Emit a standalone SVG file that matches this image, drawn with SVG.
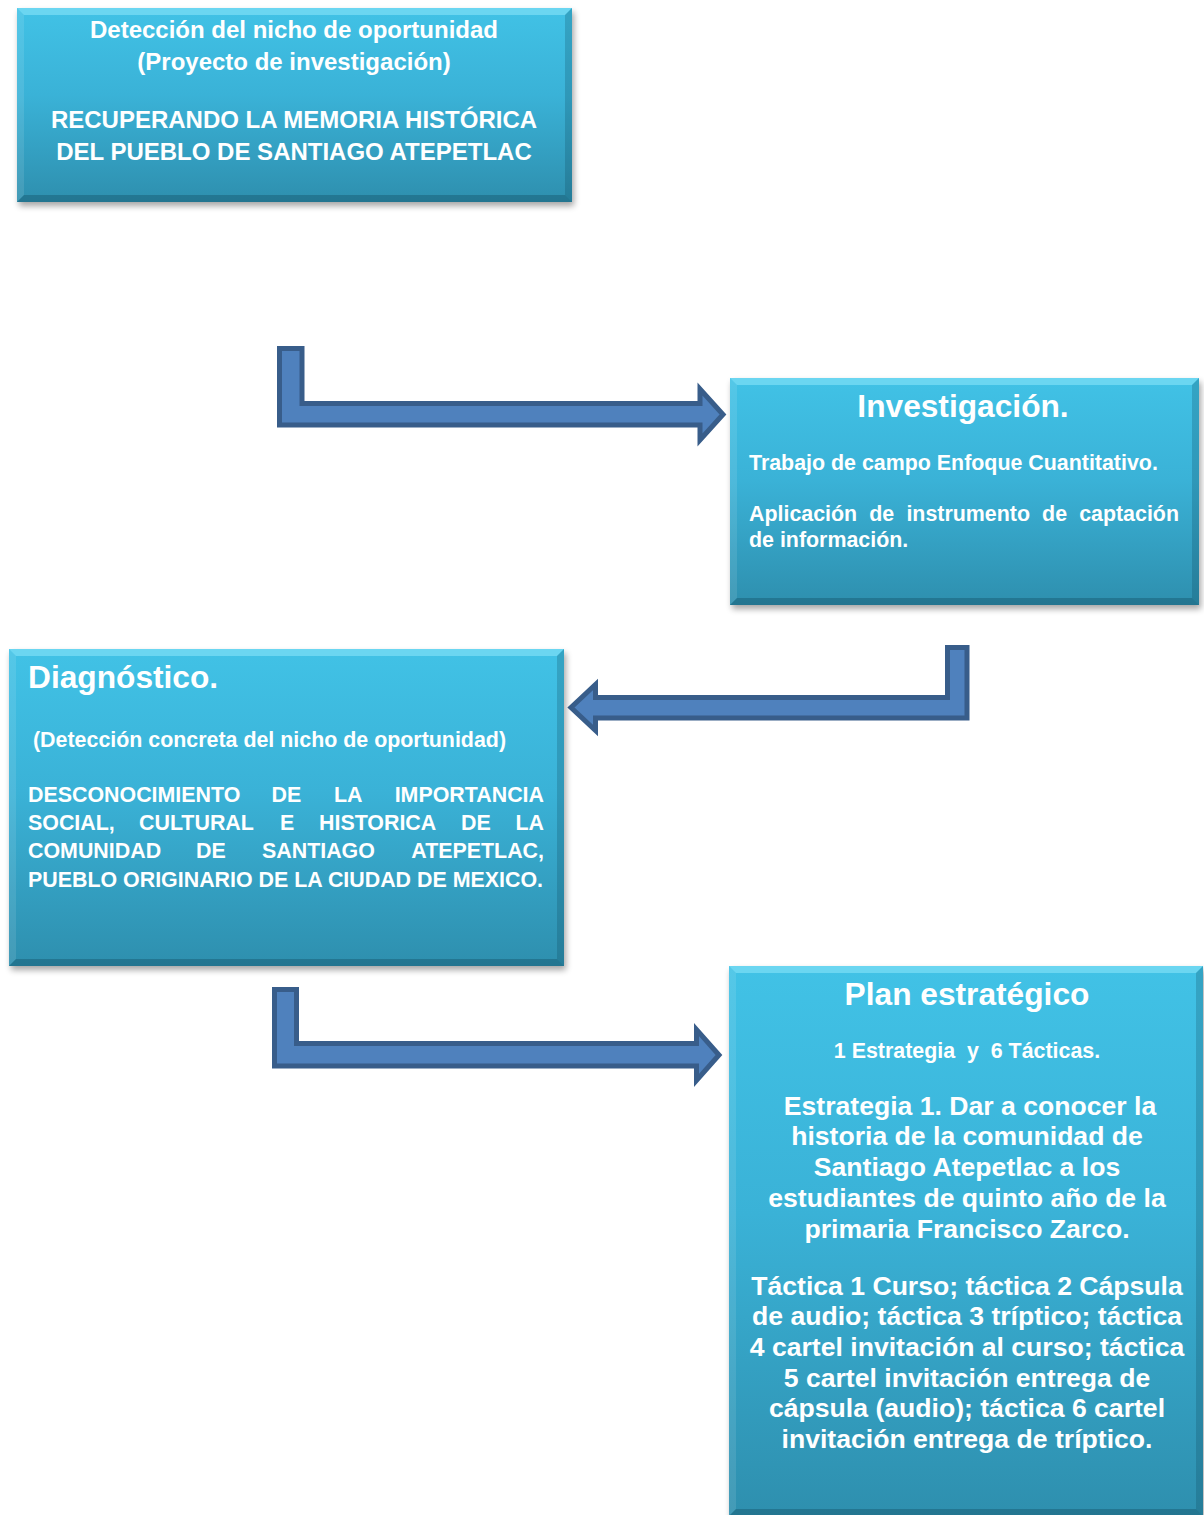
<svg xmlns="http://www.w3.org/2000/svg" width="1204" height="1515" viewBox="0 0 1204 1515">
<defs>
<linearGradient id="body" x1="0" y1="0" x2="0" y2="1">
<stop offset="0" stop-color="#41c2e6"/>
<stop offset="0.45" stop-color="#3ab2d7"/>
<stop offset="1" stop-color="#2e8fae"/>
</linearGradient>
<filter id="sh" x="-5%" y="-5%" width="110%" height="115%">
<feGaussianBlur stdDeviation="3"/>
</filter>
<style>
.shadow{fill:#000;opacity:.35;filter:url(#sh)}
.box{fill:url(#body)}
.bt{fill:#9ff0ff;opacity:.45}
.bl{fill:#ffffff;opacity:.10}
.br{fill:#0b3a4d;opacity:.22}
.bb{fill:#0b3a4d;opacity:.30}
.arrow{fill:#4f81bd;stroke:#385d8a;stroke-width:5;stroke-linejoin:miter}
text{font-family:"Liberation Sans",Arial,sans-serif;font-weight:bold;fill:#ffffff}
.t1{font-size:24px}
.ttl{font-size:31.7px}
.b21{font-size:21.4px}
.b26{font-size:26.6px}
.c{text-anchor:middle}
.e{text-anchor:end}
</style>
</defs>

<g id="connectors">
<path class="arrow" d="M279.5,348.5 H302 V403.5 H700 V389 L723,414.5 L700,440 V425 H279.5 Z"/>
<path class="arrow" d="M967,647.5 V718 H595.5 V730.5 L571,707.5 L595.5,684.5 V697.5 H947.5 V647.5 Z"/>
<path class="arrow" d="M274.5,989.5 H296.5 V1043.5 H696.5 V1029.5 L719,1055 L696.5,1080.5 V1066 H274.5 Z"/>
</g>

<g id="node-deteccion">
<rect class="shadow" x="19" y="12" width="555" height="194"/>
<rect class="box" x="17" y="8" width="555" height="194"/>
<polygon class="bt" points="17,8 572,8 565,15 24,15"/>
<polygon class="bl" points="17,8 24,15 24,195 17,202"/>
<polygon class="br" points="572,8 565,15 565,195 572,202"/>
<polygon class="bb" points="17,202 572,202 565,195 24,195"/>
<text class="t1 c" x="294" y="38">Detección del nicho de oportunidad</text>
<text class="t1 c" x="294" y="70">(Proyecto de investigación)</text>
<text class="t1 c" x="294" y="128">RECUPERANDO LA MEMORIA HISTÓRICA</text>
<text class="t1 c" x="294" y="160">DEL PUEBLO DE SANTIAGO ATEPETLAC</text>
</g>

<g id="node-investigacion">
<rect class="shadow" x="732" y="382" width="469" height="227"/>
<rect class="box" x="730" y="378" width="469" height="227"/>
<polygon class="bt" points="730,378 1199,378 1192,385 737,385"/>
<polygon class="bl" points="730,378 737,385 737,598 730,605"/>
<polygon class="br" points="1199,378 1192,385 1192,598 1199,605"/>
<polygon class="bb" points="730,605 1199,605 1192,598 737,598"/>
<text class="ttl c" x="963" y="417">Investigación.</text>
<text class="b21" x="749" y="470">Trabajo de campo Enfoque Cuantitativo.</text>
<text class="b21" x="749" y="521">Aplicación</text>
<text class="b21" x="869.3" y="521">de</text>
<text class="b21" x="906.4" y="521">instrumento</text>
<text class="b21" x="1042.1" y="521">de</text>
<text class="b21 e" x="1179" y="521">captación</text>
<text class="b21" x="749" y="547">de información.</text>
</g>

<g id="node-diagnostico">
<rect class="shadow" x="11" y="653" width="555" height="317"/>
<rect class="box" x="9" y="649" width="555" height="317"/>
<polygon class="bt" points="9,649 564,649 557,656 16,656"/>
<polygon class="bl" points="9,649 16,656 16,959 9,966"/>
<polygon class="br" points="564,649 557,656 557,959 564,966"/>
<polygon class="bb" points="9,966 564,966 557,959 16,959"/>
<text class="ttl" x="28" y="688">Diagnóstico.</text>
<text class="b21" x="33" y="747">(Detección concreta del nicho de oportunidad)</text>
<text class="b21" y="802"><tspan x="28">DESCONOCIMIENTO</tspan><tspan x="271.5">DE</tspan><tspan x="334">LA</tspan></text>
<text class="b21 e" x="544" y="802">IMPORTANCIA</text>
<text class="b21" y="830"><tspan x="28">SOCIAL,</tspan><tspan x="139">CULTURAL</tspan><tspan x="280">E</tspan><tspan x="319">HISTORICA</tspan><tspan x="461">DE</tspan></text>
<text class="b21 e" x="544" y="830">LA</text>
<text class="b21" y="858"><tspan x="28">COMUNIDAD</tspan><tspan x="196">DE</tspan><tspan x="262">SANTIAGO</tspan></text>
<text class="b21 e" x="544" y="858">ATEPETLAC,</text>
<text class="b21" x="28" y="887">PUEBLO ORIGINARIO DE LA CIUDAD DE MEXICO.</text>
</g>

<g id="node-plan">
<rect class="shadow" x="731" y="970" width="474" height="550"/>
<rect class="box" x="729" y="966" width="474" height="550"/>
<polygon class="bt" points="729,966 1203,966 1196,973 736,973"/>
<polygon class="bl" points="729,966 736,973 736,1509 729,1516"/>
<polygon class="br" points="1203,966 1196,973 1196,1509 1203,1516"/>
<polygon class="bb" points="729,1516 1203,1516 1196,1509 736,1509"/>
<text class="ttl c" x="967" y="1005">Plan estratégico</text>
<text class="b21 c" x="967" y="1058" xml:space="preserve">1 Estrategia  y  6 Tácticas.</text>
<text class="b26 c" x="970" y="1115">Estrategia 1. Dar a conocer la</text>
<text class="b26 c" x="967" y="1145">historia de la comunidad de</text>
<text class="b26 c" x="967" y="1176">Santiago Atepetlac a los</text>
<text class="b26 c" x="967" y="1207">estudiantes de quinto año de la</text>
<text class="b26 c" x="967" y="1238">primaria Francisco Zarco.</text>
<text class="b26 c" x="967" y="1295">Táctica 1 Curso; táctica 2 Cápsula</text>
<text class="b26 c" x="967" y="1325">de audio; táctica 3 tríptico; táctica</text>
<text class="b26 c" x="967" y="1356">4 cartel invitación al curso; táctica</text>
<text class="b26 c" x="967" y="1387">5 cartel invitación entrega de</text>
<text class="b26 c" x="967" y="1417">cápsula (audio); táctica 6 cartel</text>
<text class="b26 c" x="967" y="1448">invitación entrega de tríptico.</text>
</g>
</svg>
